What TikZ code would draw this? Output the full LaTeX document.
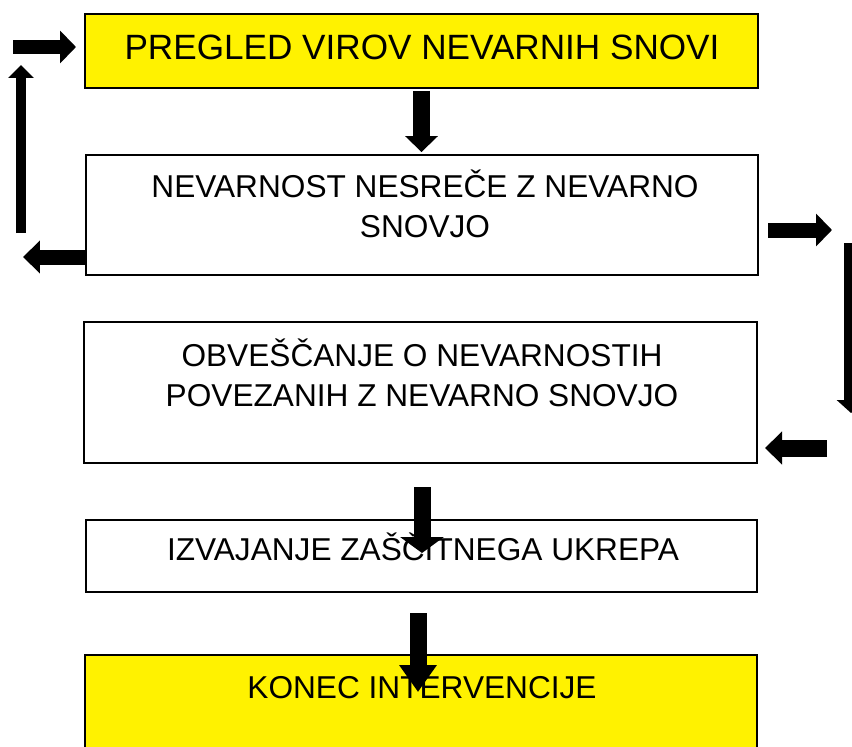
\documentclass[tikz,border=0pt]{standalone}
\usepackage{fontspec}
\setmainfont{Liberation Sans}
\usetikzlibrary{arrows.meta}
\usetikzlibrary{positioning}

\begin{document}
\begin{tikzpicture}[x=0.02cm,y=-0.02cm,
	box/.style={draw=black, line width=1.1pt, rectangle, inner sep=0pt},
	txt/.style={anchor=base, align=center, inner sep=0pt, font=\fontsize{18}{22.5}\selectfont},
	fat/.style n args={3}{line width=#1, -{Triangle[length=#2,width=#3]}}]
	\useasboundingbox (0,0) rectangle (852,747);

	% boxes
	\node[box, fill=yellow, minimum width=13.46cm, minimum height=1.48cm] (b1) at (421.5,51) {};
	\node[box, minimum width=13.44cm, minimum height=2.4cm] (b2) at (422,215) {};
	\node[box, minimum width=13.46cm, minimum height=2.82cm] (b3) at (420.5,392.5) {};
	\node[box, minimum width=13.42cm, minimum height=1.44cm] (b4) at (421.5,556) {};
	\node[box, fill=yellow, minimum width=13.44cm, minimum height=2.4cm] (b5) at (421,715) {};

	% texts (base = last line)
	\node[txt, font=\fontsize{20}{24}\selectfont] (t1) at (422,59) {PREGLED VIROV NEVARNIH SNOVI};
	\node[txt] (t2) at (425,237) {NEVARNOST NESREČE Z NEVARNO\\SNOVJO};
	\node[txt] (t3) at (422,406) {OBVEŠČANJE O NEVARNOSTIH\\POVEZANIH Z NEVARNO SNOVJO};
	\node[txt] (t4) at (423,560) {IZVAJANJE ZAŠČITNEGA UKREPA};
	\node[txt] (t5) at (422,698) {KONEC INTERVENCIJE};

	% free ends
	\coordinate (l1a) at (13,47);   \coordinate (l1b) at (76,47);
	\coordinate (l2a) at (21,233);  \coordinate (l2b) at (21,65);
	\coordinate (l3) at (23,257);
	\coordinate (r1a) at (768,230); \coordinate (r1b) at (832,230);
	\coordinate (r2a) at (851,243); \coordinate (r2b) at (851,413);
	\coordinate (r3a) at (827,448); \coordinate (r3b) at (765,448);
	\coordinate (d1a) at (422,487); \coordinate (d1b) at (422,553);
	\coordinate (d2a) at (418,613); \coordinate (d2b) at (418,692);

	% arrows
	\draw[fat={0.3cm}{0.32cm}{0.64cm}] (l1a) -- (l1b);
	\draw[fat={0.22cm}{0.26cm}{0.5cm}] (l2a) -- (l2b);
	\draw[fat={0.3cm}{0.34cm}{0.64cm}] (b2.west |- l3) -- (l3);
	\draw[fat={0.34cm}{0.32cm}{0.64cm}] ([yshift=-0.04cm]b1.south) -- ([yshift=0.04cm]b1.south |- b2.north);
	\draw[fat={0.3cm}{0.32cm}{0.64cm}] (r1a) -- (r1b);
	\draw[fat={0.28cm}{0.26cm}{0.56cm}] (r2a) -- (r2b);
	\draw[fat={0.34cm}{0.34cm}{0.64cm}] (r3a) -- (r3b);
	\draw[fat={0.34cm}{0.32cm}{0.86cm}] (d1a) -- (d1b);
	\draw[fat={0.34cm}{0.54cm}{0.72cm}] (d2a) -- (d2b);
\end{tikzpicture}
\end{document}
